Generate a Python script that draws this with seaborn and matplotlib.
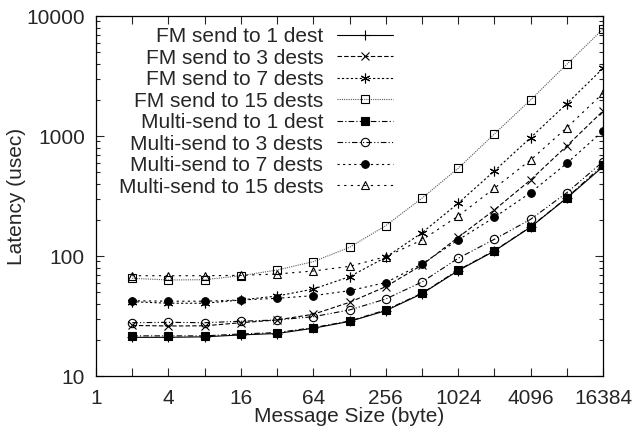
import matplotlib
matplotlib.use("Agg")
import matplotlib.pyplot as plt
import matplotlib.ticker as mticker
import seaborn as sns
import pandas as pd

# message sizes (bytes)
sizes = [2, 4, 8, 16, 32, 64, 128, 256, 512, 1024, 2048, 4096, 8192, 16384]

# latency in usec
fm_1 = [21.0, 21.0, 21.2, 22.0, 22.6, 25.0, 28.5, 35.0, 48.5, 75.5, 110, 174, 304, 555]
fm_3 = [26.4, 26.1, 26.2, 27.8, 29.3, 32.7, 41.1, 55.5, 84, 143, 242, 430, 826, 1616]
fm_7 = [41.6, 40.4, 40.4, 43.0, 46.4, 53.0, 67.2, 97.5, 156, 275, 511, 968, 1858, 3665]
fm_15 = [65.2, 63.1, 63.5, 68.5, 76.4, 89.7, 118, 179, 303, 538, 1040, 1995, 3957, 7790]
multi_1 = [21.6, 21.6, 21.6, 22.4, 23.0, 25.3, 28.7, 35.5, 48.9, 76.4, 110.7, 175, 306, 573]
multi_3 = [27.8, 28.0, 27.8, 28.6, 29.3, 31.2, 35.5, 43.8, 60.7, 95.7, 137.8, 202, 337, 611]
multi_7 = [42.4, 42.0, 42.0, 43.0, 44.4, 46.7, 51.4, 60.0, 85.8, 136, 210, 337, 592, 1101]
multi_15 = [68.5, 68.5, 68.5, 69.0, 70.8, 75.0, 82.0, 98.7, 136, 215, 367, 631, 1173, 2270]

labels = ["FM send to 1 dest", "FM send to 3 dests", "FM send to 7 dests",
          "FM send to 15 dests", "Multi-send to 1 dest", "Multi-send to 3 dests",
          "Multi-send to 7 dests", "Multi-send to 15 dests"]
series = [fm_1, fm_3, fm_7, fm_15, multi_1, multi_3, multi_7, multi_15]

# line style / marker per series (gnuplot-like)
styles = [
    dict(linestyle="-", marker="+", mfc="none", ms=7),
    dict(linestyle=(0, (4, 2)), marker="x", mfc="none", ms=6),
    dict(linestyle=(0, (2, 2)), marker=(6, 2, 0), mfc="none", ms=7),
    dict(linestyle=(0, (1, 1)), marker="s", mfc="none", ms=6, color="0.35"),
    dict(linestyle=(0, (5, 2, 1, 2)), marker="s", mfc="black", ms=6),
    dict(linestyle=(0, (5, 2, 1, 2, 1, 2)), marker="o", mfc="none", ms=6),
    dict(linestyle=(0, (2, 3)), marker="o", mfc="black", ms=5.5),
    dict(linestyle=(0, (2, 4)), marker="^", mfc="none", ms=6),
]

sns.set_style("ticks")
plt.rcParams["font.family"] = ["Liberation Sans", "DejaVu Sans"]
plt.rcParams["xtick.direction"] = "in"
plt.rcParams["ytick.direction"] = "in"

fig = plt.figure(figsize=(6.34, 4.30), dpi=100)
ax = fig.add_axes([96 / 634, 1 - 376 / 430, 507 / 634, 360 / 430])

for lab, vals, st in zip(labels, series, styles):
    df = pd.DataFrame({"size": sizes, "latency": vals})
    st = dict(st)
    color = st.pop("color", "black")
    sns.lineplot(data=df, x="size", y="latency", ax=ax, label=lab, color=color,
                 lw=0.8, mec="black", mew=0.8, errorbar=None, sort=False, **st)

ax.set_xscale("log", base=2)
ax.set_yscale("log")
ax.set_xlim(1, 16384)
ax.set_ylim(10, 10000)

ax.xaxis.set_major_locator(mticker.FixedLocator([4 ** i for i in range(8)]))
ax.xaxis.set_major_formatter(mticker.FixedFormatter([str(4 ** i) for i in range(8)]))
ax.xaxis.set_minor_locator(mticker.FixedLocator([2 * 4 ** i for i in range(7)]))
ax.xaxis.set_minor_formatter(mticker.NullFormatter())
ax.yaxis.set_major_locator(mticker.FixedLocator([10, 100, 1000, 10000]))
ax.yaxis.set_major_formatter(mticker.FixedFormatter(["10", "100", "1000", "10000"]))
ax.yaxis.set_minor_locator(mticker.LogLocator(base=10, subs=range(2, 10)))
ax.yaxis.set_minor_formatter(mticker.NullFormatter())

ax.tick_params(which="both", top=True, right=True, labelsize=15, width=0.8)
ax.tick_params(which="major", length=6)
ax.tick_params(axis="x", which="minor", length=6)
ax.tick_params(axis="y", which="minor", length=3)
ax.tick_params(axis="x", which="major", pad=9)
ax.tick_params(axis="y", which="major", pad=8)
for sp in ax.spines.values():
    sp.set_linewidth(0.9)
    sp.set_color("black")

ax.set_xlabel("Message Size (byte)", fontsize=15, labelpad=0)
ax.set_ylabel("Latency (usec)", fontsize=15, labelpad=0)

ax.legend(loc="upper left", bbox_to_anchor=(0.012, 1.015), frameon=False,
          markerfirst=False, fontsize=15, handlelength=2.7, handletextpad=0.67,
          labelspacing=0.12, numpoints=1, borderpad=0.3)

plt.savefig("out.png", dpi=100)
